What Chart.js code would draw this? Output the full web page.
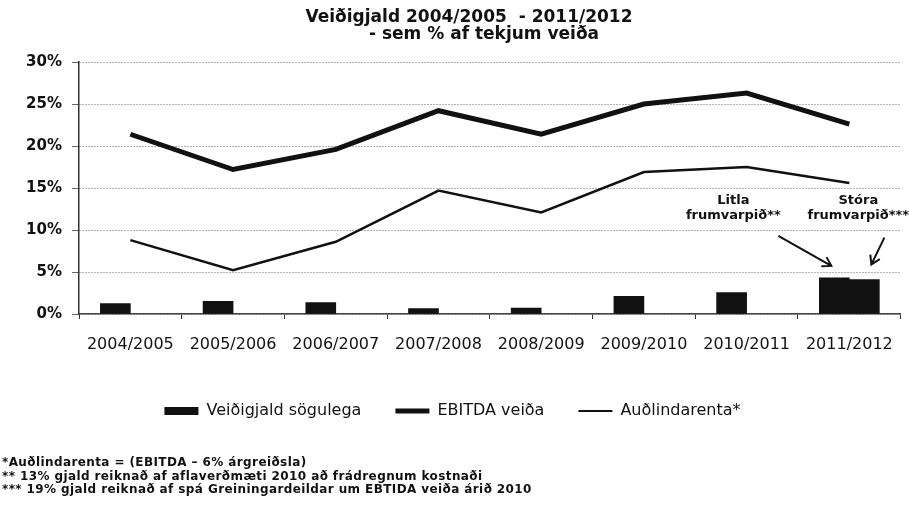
<!DOCTYPE html>
<html>
<head>
<meta charset="utf-8">
<script src="https://cdn.jsdelivr.net/npm/chart.js@4.4.1/dist/chart.umd.min.js"></script>
<style>
    html, body { margin: 0; padding: 0; background: #fff; }
    #wrap { position: relative; width: 909px; height: 512px; }
    #notes {
        position: absolute; left: 2px; top: 456px;
        font: bold 12px "DejaVu Sans", Verdana, sans-serif;
        letter-spacing: 0.4px;
        line-height: 13.5px; color: #111; white-space: nowrap;
    }
</style>
</head>
<body>
<div id="wrap">
    <canvas id="chart" width="909" height="512"></canvas>
    <div id="notes">
        <div>*Auðlindarenta = (EBITDA – 6% árgreiðsla)</div>
        <div>** 13% gjald reiknað af aflaverðmæti 2010 að frádregnum kostnaði</div>
        <div>*** 19% gjald reiknað af spá Greiningardeildar um EBTIDA veiða árið 2010</div>
    </div>
</div>
<script>
// data (% of fishing revenue)
var years = ["2004/2005", "2005/2006", "2006/2007", "2007/2008", "2008/2009", "2009/2010", "2010/2011", "2011/2012"];
var veidigjald = [1.25, 1.5, 1.35, 0.65, 0.7, 2.1, 2.55, 4.3];
var storaFrumvarp = [null, null, null, null, null, null, null, 4.1];
var ebitda = [21.4, 17.2, 19.6, 24.2, 21.4, 25.0, 26.3, 22.6];
var audlindarenta = [8.8, 5.2, 8.6, 14.7, 12.1, 16.9, 17.5, 15.6];
var yTicks = [0, 5, 10, 15, 20, 25, 30];

var titleText = "Veiðigjald 2004/2005  - 2011/2012";
var subtitleText = "- sem % af tekjum veiða";
var labelBar = "Veiðigjald sögulega";
var labelEbitda = "EBITDA veiða";
var labelRenta = "Auðlindarenta*";

var FONT = '"DejaVu Sans", Verdana, sans-serif';
var INK = "#111";

// title + arrows/notes for the two bills
var extrasPlugin = {
    id: 'extras',
    afterDraw: function(chart) {
        var ctx = chart.ctx;
        ctx.save();
        ctx.fillStyle = INK;
        ctx.textAlign = 'center';
        ctx.textBaseline = 'middle';
        ctx.font = 'bold 17px ' + FONT;
        ctx.fillText(titleText, 469, 18);
        ctx.font = 'bold 17px ' + FONT;
        ctx.fillText(subtitleText, 484, 35);

        var litla = chart.getDatasetMeta(0).data[7];
        var stora = chart.getDatasetMeta(1).data[7];
        ctx.font = 'bold 13px ' + FONT;
        ctx.fillText("Litla", litla.x - 101, litla.y - 77);
        ctx.fillText("frumvarpið**", litla.x - 101, litla.y - 62);
        ctx.fillText("Stóra", stora.x - 6, litla.y - 77);
        ctx.fillText("frumvarpið***", stora.x - 6, litla.y - 62);

        drawArrow(ctx, litla.x - 56, litla.y - 42, litla.x - 3, litla.y - 12);
        drawArrow(ctx, stora.x + 20, stora.y - 42, stora.x + 7, stora.y - 15);
        ctx.restore();
    }
};

function drawArrow(ctx, x1, y1, x2, y2) {
    var ang = Math.atan2(y2 - y1, x2 - x1);
    var head = 10;
    ctx.strokeStyle = INK;
    ctx.lineWidth = 2;
    ctx.beginPath();
    ctx.moveTo(x1, y1);
    ctx.lineTo(x2, y2);
    ctx.moveTo(x2 - head * Math.cos(ang - 0.55), y2 - head * Math.sin(ang - 0.55));
    ctx.lineTo(x2, y2);
    ctx.lineTo(x2 - head * Math.cos(ang + 0.55), y2 - head * Math.sin(ang + 0.55));
    ctx.stroke();
}

var ctx = document.getElementById('chart');
var chart = new Chart(ctx, {
    type: 'bar',
    data: {
        labels: years,
        datasets: [
            { label: labelBar, data: veidigjald, backgroundColor: INK, barThickness: 30 },
            { label: "Stóra frumvarpið", data: storaFrumvarp, backgroundColor: INK, barThickness: 30 },
            { type: 'line', label: labelEbitda, data: ebitda, borderColor: INK, borderWidth: 5,
              pointRadius: 0, tension: 0, fill: false },
            { type: 'line', label: labelRenta, data: audlindarenta, borderColor: INK, borderWidth: 2.5,
              pointRadius: 0, tension: 0, fill: false }
        ]
    },
    options: {
        responsive: false,
        animation: false,
        layout: { padding: { left: 0, right: 4, top: 62, bottom: 83 } },
        plugins: {
            tooltip: { enabled: false },
            title: { display: false },
            legend: {
                position: 'bottom',
                labels: {
                    color: INK,
                    font: { family: FONT, size: 16 },
                    usePointStyle: true,
                    pointStyleWidth: 34,
                    boxHeight: 8,
                    padding: 34,
                    generateLabels: function(chart) {
                        return [
                            { text: labelBar, fillStyle: INK, strokeStyle: INK, lineWidth: 0, pointStyle: 'rect', datasetIndex: 0, fontColor: INK },
                            { text: labelEbitda, fillStyle: INK, strokeStyle: INK, lineWidth: 5, pointStyle: 'line', datasetIndex: 2, fontColor: INK },
                            { text: labelRenta, fillStyle: INK, strokeStyle: INK, lineWidth: 2, pointStyle: 'line', datasetIndex: 3, fontColor: INK }
                        ];
                    }
                }
            }
        },
        scales: {
            x: {
                afterFit: function(scale) { scale.height = 55; },
                grid: { display: true, drawOnChartArea: false, tickLength: 5, color: '#333' },
                border: { color: '#444', width: 1.5 },
                ticks: { color: INK, font: { family: FONT, size: 16 }, padding: 16, maxRotation: 0 }
            },
            y: {
                min: yTicks[0],
                max: yTicks[yTicks.length - 1],
                afterFit: function(scale) { scale.width = 79; },
                afterBuildTicks: function(scale) {
                    scale.ticks = yTicks.map(function(v) { return { value: v }; });
                },
                // in v4 border.dash styles the grid lines -> dotted
                grid: { color: '#666', lineWidth: 1, tickLength: 7 },
                border: { color: '#333', width: 1.5, dash: [1, 2] },
                ticks: {
                    color: INK, padding: 10,
                    font: { family: FONT, size: 15, weight: 'bold' },
                    callback: function(v) { return v + '%'; }
                }
            }
        }
    },
    plugins: [extrasPlugin]
});
</script>
</body>
</html>
